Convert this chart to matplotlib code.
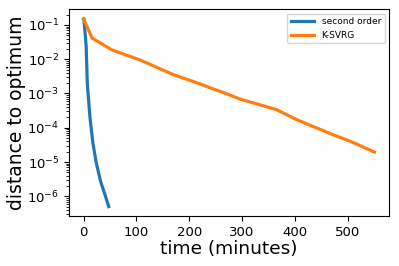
import matplotlib
matplotlib.use("Agg")
import matplotlib.pyplot as plt

# second order method
so_time = [0, 0.6, 5, 7, 12, 17.6, 24, 32, 41.5, 47.7]
so_dist = [0.15, 0.155, 2.3e-2, 2.0e-3, 2.1e-4, 3.6e-5, 9.5e-6, 2.8e-6, 1.0e-6, 5.0e-7]

# K-SVRG
ks_time = [0, 16.4, 54, 107, 170, 221, 240, 265, 296, 365, 403, 472, 504, 551]
ks_dist = [0.15, 0.041, 0.0186, 0.0095, 0.00355, 0.0019, 0.00145, 0.00107, 0.00069,
           0.00034, 0.000174, 6.3e-5, 4.1e-5, 1.95e-5]

fig, ax = plt.subplots(figsize=(3.99, 2.66), dpi=100)
ax.plot(so_time, so_dist, lw=2.3, label="second order")
ax.plot(ks_time, ks_dist, lw=2.3, label="K-SVRG")
ax.set_yscale("log")
ax.set_xlabel("time (minutes)", fontsize=13.3, labelpad=1)
ax.set_ylabel("distance to optimum", fontsize=13.5, labelpad=1)
ax.tick_params(labelsize=9.5)
ax.legend(fontsize=6.5, loc="upper right", handlelength=2.6)
fig.subplots_adjust(left=0.173, right=0.975, top=0.966, bottom=0.188)
fig.savefig("out.png", dpi=100)
